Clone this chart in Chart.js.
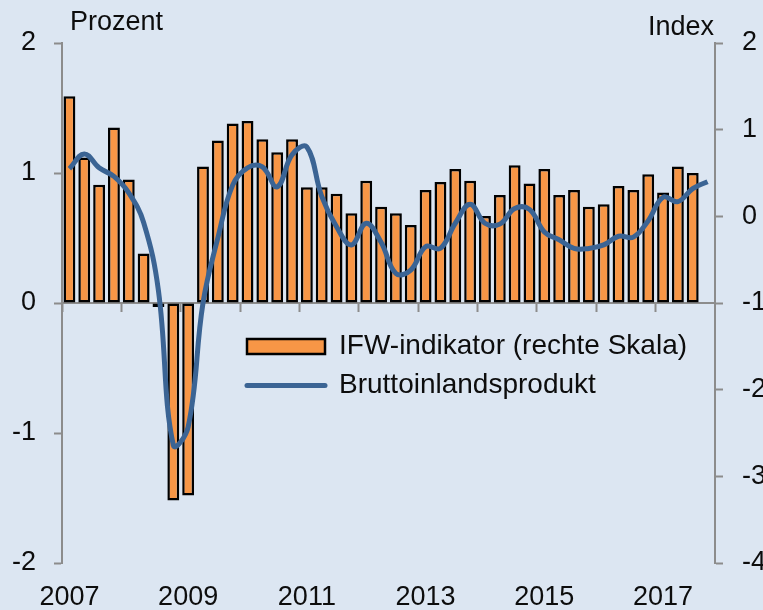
<!DOCTYPE html>
<html>
<head>
<meta charset="utf-8">
<script src="https://cdn.jsdelivr.net/npm/chart.js@4.4.1/dist/chart.umd.min.js"></script>
<style>
  html, body { margin: 0; padding: 0; background: #dce6f2; overflow: hidden; }
  #wrap { width: 763px; height: 610px; }
</style>
</head>
<body>
<div id="wrap"><canvas id="BarLineChart"></canvas></div>
<script>
// quarterly categories 2007 Q1 .. 2017 Q4
const years = ['2007', '2008', '2009', '2010', '2011', '2012', '2013', '2014', '2015', '2016', '2017'];
const quarters = [];
years.forEach(y => ['Q1', 'Q2', 'Q3', 'Q4'].forEach(q => quarters.push(y + ' ' + q)));

// years that get a label on the x axis
const yearTicks = ['2007', '2009', '2011', '2013', '2015', '2017'];

// IFW-indikator (bars, left scale)
const ifwIndicator = [
  1.59, 1.12, 0.91, 1.35, 0.95, 0.38, -0.03, -1.52,
  -1.48, 1.05, 1.25, 1.38, 1.40, 1.26, 1.16, 1.26,
  0.89, 0.89, 0.84, 0.69, 0.94, 0.74, 0.69, 0.60,
  0.87, 0.93, 1.03, 0.94, 0.67, 0.83, 1.06, 0.92,
  1.03, 0.83, 0.87, 0.74, 0.76, 0.90, 0.87, 0.99,
  0.85, 1.05, 1.00, null
];

// Bruttoinlandsprodukt (line, right scale)
const bip = [
  0.55, 0.72, 0.56, 0.46, 0.27, -0.07, -0.86, -2.64,
  -2.43, -1.00, -0.25, 0.36, 0.56, 0.57, 0.34, 0.71,
  0.80, 0.23, -0.12, -0.33, -0.08, -0.30, -0.66, -0.62,
  -0.35, -0.37, -0.08, 0.14, -0.08, -0.09, 0.09, 0.08,
  -0.18, -0.27, -0.37, -0.37, -0.33, -0.23, -0.24, -0.05,
  0.22, 0.17, 0.32, 0.40
];

const leftUnit = 'Prozent';
const rightUnit = 'Index';

const family = "'Liberation Sans', Arial, sans-serif";
const textColor = '#0d0d0d';
const axisGrey = '#8c8c8c';

// unit texts above the axes + legend placed inside the plot
const extras = {
  id: 'extras',
  afterLayout(chart) {
    const a = chart.chartArea;
    const lg = chart.legend;
    lg.left = a.left + 174;
    lg.top = a.top + 278.5;
    lg.width = 470;
    lg.height = 110;
    lg.right = lg.left + lg.width;
    lg.bottom = lg.top + lg.height;
  },
  afterDraw(chart) {
    const {ctx, chartArea: a} = chart;
    ctx.save();
    ctx.font = '27px ' + family;
    ctx.fillStyle = textColor;
    ctx.textBaseline = 'alphabetic';
    ctx.textAlign = 'left';
    ctx.fillText(leftUnit, a.left + 8, a.top - 13);
    ctx.textAlign = 'right';
    ctx.fillText(rightUnit, a.right - 1, a.top - 8);
    ctx.restore();
  }
};

const ctx = document.getElementById('BarLineChart').getContext('2d');
let chart = new Chart(ctx, {
  type: 'bar',
  data: {
    labels: quarters,
    datasets: [{
      label: 'IFW-indikator (rechte Skala)',
      data: ifwIndicator,
      backgroundColor: '#f79646',
      borderColor: '#000000',
      borderWidth: 2.5,
      borderSkipped: false,
      categoryPercentage: 1,
      barPercentage: 0.8,
      yAxisID: 'y',
      order: 1
    }, {
      type: 'line',
      label: 'Bruttoinlandsprodukt',
      data: bip,
      borderColor: '#3b6494',
      borderWidth: 5,
      tension: 0.4,
      pointRadius: 0,
      yAxisID: 'y1',
      order: 0
    }]
  },
  options: {
    responsive: true,
    maintainAspectRatio: false,
    animation: false,
    layout: { padding: { top: 43 } },
    plugins: {
      tooltip: { enabled: false },
      legend: {
        position: 'chartArea',
        align: 'start',
        labels: {
          font: { family: family, size: 28 },
          color: textColor,
          usePointStyle: true,
          pointStyleWidth: 78,
          boxHeight: 15,
          padding: 11,
          generateLabels(chart) {
            const items = Chart.defaults.plugins.legend.labels.generateLabels(chart);
            items.sort((a, b) => a.datasetIndex - b.datasetIndex);
            items.forEach(it => {
              const ds = chart.data.datasets[it.datasetIndex];
              if (ds.type === 'line') {
                it.pointStyle = 'line';
                it.strokeStyle = ds.borderColor;
                it.lineWidth = 5;
                it.lineCap = 'round';
              } else {
                it.pointStyle = 'rect';
                it.fillStyle = ds.backgroundColor;
                it.strokeStyle = ds.borderColor;
                it.lineWidth = 2.5;
              }
            });
            return items;
          }
        }
      }
    },
    scales: {
      // year labels along the bottom
      x: {
        offset: true,
        grid: { display: false, drawTicks: false },
        border: { display: false },
        ticks: {
          autoSkip: false,
          maxRotation: 0,
          padding: 18,
          color: textColor,
          font: { family: family, size: 27 },
          callback(value, index) {
            const q = quarters[index];
            const year = q.slice(0, 4);
            return q.endsWith('Q1') && yearTicks.includes(year) ? year : '';
          }
        },
        afterFit(scale) { scale.height = 47; }
      },
      // axis line at zero with year tick marks
      x2: {
        type: 'category',
        position: { y: 0 },
        offset: true,
        grid: {
          offset: true,
          drawOnChartArea: false,
          drawTicks: true,
          tickLength: 8,
          tickWidth: 2,
          color: 'transparent',
          tickColor: (c) => (c.index !== undefined && c.index % 4 === 0) ? axisGrey : 'transparent'
        },
        border: { display: true, color: axisGrey, width: 2 },
        ticks: { display: false, autoSkip: false }
      },
      y: {
        position: 'left',
        min: -2,
        max: 2,
        ticks: {
          stepSize: 1,
          padding: 18,
          color: textColor,
          font: { family: family, size: 27 }
        },
        grid: { drawOnChartArea: false, tickLength: 8, tickWidth: 2, tickColor: axisGrey },
        border: { color: axisGrey, width: 2 },
        afterFit(scale) { scale.width = 62; }
      },
      y1: {
        position: 'right',
        min: -4,
        max: 2,
        ticks: {
          stepSize: 1,
          padding: 19,
          color: textColor,
          font: { family: family, size: 27 }
        },
        grid: { drawOnChartArea: false, tickLength: 8, tickWidth: 2, tickColor: axisGrey },
        border: { color: axisGrey, width: 2 },
        afterFit(scale) { scale.width = 48; }
      }
    }
  },
  plugins: [extras]
});
</script>
</body>
</html>
